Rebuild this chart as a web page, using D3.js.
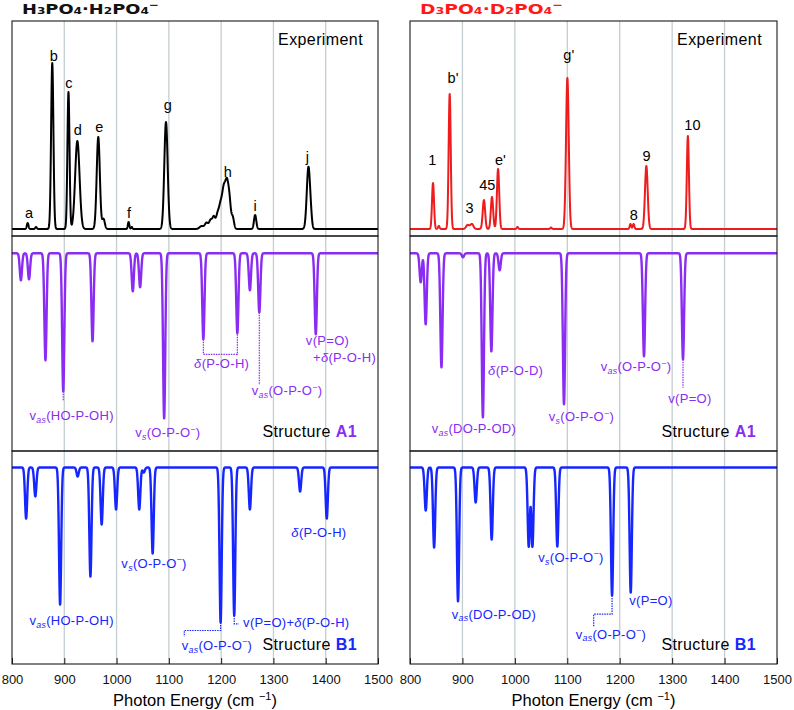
<!DOCTYPE html>
<html>
<head>
<meta charset="utf-8">
<script src="https://cdn.jsdelivr.net/npm/d3@7"></script>
<style>
  body { margin: 0; background: #fff; }
  text { font-family: "Liberation Sans", Arial, sans-serif; }
</style>
</head>
<body>
<svg id="chart" width="794" height="710"></svg>
<script>
// ---- data: peaks as [position cm-1, height, width(sigma)] ----
const energyTicks = [800, 900, 1000, 1100, 1200, 1300, 1400, 1500]

const hExpPeaks = [
  [830, 6, 1.6], [846, 2, 1.5], [877, 166, 2.2], [908, 137, 2.0], [925, 88, 4.2],
  [965, 92, 3.0], [975, 10, 2.5], [1023, 7, 1.4], [1029, 2, 1.2], [1094.5, 107, 3.2],
  [1163, 3, 4], [1172, 6, 3], [1180, 9, 3], [1186, 11, 2.5], [1193, 14, 3], [1199, 22, 3],
  [1205, 36, 3], [1211, 43, 3], [1216, 24, 2.5], [1222, 12, 2.5], [1265, 14, 2.2], [1367, 62, 3.2], [1372, 6, 2]
]
const hExpLabels = [
  ['a', 832.5, 11], ['b', 880, 168], ['c', 909, 141], ['d', 926, 94], ['e', 967, 97],
  ['f', 1024, 11], ['g', 1098, 119], ['h', 1212.5, 52], ['i', 1265, 18], ['j', 1365, 67]
]

const dExpPeaks = [
  [843.9, 46, 1.9], [855, 3, 1.5], [875.7, 135, 2.0], [910, 4, 3], [918, 5, 3],
  [941, 29, 2.3], [956.4, 32, 2.2], [968, 60, 2.2], [1005, 2, 1.5], [1069, 1.5, 1.5],
  [1100.2, 151, 2.6], [1220.5, 5, 1.5], [1226.5, 5, 1.5], [1250.8, 63, 2.6], [1330, 93, 2.0]
]
const dExpLabels = [
  ['1', 842.7, 64], ["b'", 882, 146], ['3', 913.8, 16], ['45', 947.5, 39], ["e'", 972.4, 64],
  ["g'", 1102.8, 169], ['8', 1226.7, 9], ['9', 1251, 67.6], ['10', 1338.7, 99]
]

const hA1Peaks = [
  [817, 27], [832.5, 26], [864, 107], [898, 138], [954, 88], [1031, 38], [1045, 34],
  [1091, 165], [1166, 86], [1231, 80], [1255, 37], [1273, 59], [1381, 81]
]
const hB1Peaks = [
  [827, 51], [844.6, 29], [892, 137], [925.6, 9], [950, 109], [971.5, 57], [999, 42],
  [1043.4, 42], [1052, 5], [1069, 86], [1199, 155], [1225, 148], [1255, 42], [1351, 24], [1402, 51]
]
const dA1Peaks = [
  [820.4, 29], [829.9, 71], [860, 114], [901, 4], [939, 164], [955.2, 98], [971, 17],
  [1093.7, 151], [1246.3, 103], [1320.7, 106]
]
const dB1Peaks = [
  [830, 43], [846, 80], [891.6, 134], [925.3, 35], [955.8, 72], [1026.5, 79], [1033.5, 79],
  [1081, 79], [1185.4, 128], [1221, 125]
]

// annotations: [text, x (cm-1), depth, anchor]
const hA1Notes = [
  ['v_{as}(HO-P-OH)', 914, 166.7, 'middle'],
  ['v_{s}(O-P-O^{−})', 1098, 183.7, 'middle'],
  ['*δ*(P-O-H)', 1201, 114.7, 'middle'],
  ['v_{as}(O-P-O^{−})', 1258.5, 141.7, 'start'],
  ['v(P=O)', 1362, 92, 'start'],
  ['+*δ*(P-O-H)', 1375.7, 108.5, 'start']
]
const hA1Leaders = [
  [[898, 138], [898, 148]],
  [[1166, 86], [1166, 101], [1231, 101], [1231, 80]],
  [[1273, 59], [1273, 131.7]]
]
const hB1Notes = [
  ['v_{as}(HO-P-OH)', 914, 157.3, 'middle'],
  ['v_{s}(O-P-O^{−})', 1071.6, 100.3, 'middle'],
  ['*δ*(P-O-H)', 1387, 69, 'middle'],
  ['v_{as}(O-P-O^{−})', 1124.5, 182.3, 'start'],
  ['v(P=O)+*δ*(P-O-H)', 1242, 159, 'start']
]
const hB1Leaders = [
  [[1199, 155], [1199, 163], [1129.5, 163], [1129.5, 169]],
  [[1225, 148], [1225, 156.3], [1233.7, 156.3]]
]
const dA1Notes = [
  ['*δ*(P-O-D)', 949, 122, 'start'],
  ['v_{as}(DO-P-OD)', 841.4, 180, 'start'],
  ['v_{s}(O-P-O^{−})', 1064.7, 167.7, 'start'],
  ['v_{as}(O-P-O^{−})', 1163.8, 117.7, 'start'],
  ['v(P=O)', 1292.7, 149.4, 'start']
]
const dA1Leaders = [
  [[1320.7, 106], [1320.7, 134.4]]
]
const dB1Notes = [
  ['v_{as}(DO-P-OD)', 879.5, 151, 'start'],
  ['v_{s}(O-P-O^{−})', 1044.7, 94.4, 'start'],
  ['v(P=O)', 1218.3, 137.7, 'start'],
  ['v_{as}(O-P-O^{−})', 1116, 171, 'start']
]
const dB1Leaders = [
  [[1185.4, 128], [1185.4, 146.7], [1150.4, 146.7], [1150.4, 159.4]]
]

// ---- layout ----
const svg = d3.select('#chart')
const rows = [21, 236, 451, 664]
const columns = [
  { x0: 12, x1: 378, title: 'H_{3}PO_{4}·H_{2}PO_{4}^{−}', titleColor: '#111', titleLen: 137,
    exp: hExpPeaks, expLabels: hExpLabels, expColor: '#000',
    a1: hA1Peaks, a1Notes: hA1Notes, a1Leaders: hA1Leaders,
    b1: hB1Peaks, b1Notes: hB1Notes, b1Leaders: hB1Leaders },
  { x0: 410, x1: 777, title: 'D_{3}PO_{4}·D_{2}PO_{4}^{−}', titleColor: '#ff1a1a', titleLen: 143,
    exp: dExpPeaks, expLabels: dExpLabels, expColor: '#ee1c1c',
    a1: dA1Peaks, a1Notes: dA1Notes, a1Leaders: dA1Leaders,
    b1: dB1Peaks, b1Notes: dB1Notes, b1Leaders: dB1Leaders }
]
const purple = '#8a2cf2'
const blue = '#1626ff'
const gridColor = '#c3cdd2'
const noteSize = 13

const spectrum = (peaks, sigma) => {
  const pts = []
  for (let e = 800; e <= 1500; e += 0.25) {
    let v = 0
    peaks.forEach(p => {
      const s = p[2] || sigma
      v += p[1] * Math.exp(-((e - p[0]) ** 2) / (2 * s * s))
    })
    pts.push([e, v])
  }
  return pts
}

// rich text: _{sub} ^{sup} *italic*
const richText = (sel, str, size, flatSub) => {
  const re = /_\{([^}]*)\}|\^\{([^}]*)\}|\*([^*]*)\*|([^_^*]+)/g
  let m, shift = 0
  while ((m = re.exec(str))) {
    const t = sel.append('tspan')
    let target = 0
    if (m[1] !== undefined) {
      t.text(m[1]).attr('font-size', size * 0.68)
      if (!flatSub) { t.attr('font-style', 'italic'); target = size * 0.22 }
    } else if (m[2] !== undefined) {
      t.text(m[2]).attr('font-size', size * 0.68); target = -size * 0.42
    } else if (m[3] !== undefined) {
      t.text(m[3]).attr('font-style', 'italic')
    } else {
      t.text(m[4])
    }
    t.attr('dy', target - shift)
    shift = target
  }
}

columns.forEach((col, ci) => {
  const x = d3.scaleLinear().domain([800, 1500]).range([col.x0, col.x1])
  const g = svg.append('g')

  // title
  const title = g.append('text')
    .attr('x', col.x0 + 10).attr('y', 14)
    .attr('font-size', 13.5).attr('font-weight', 'bold')
    .style('font-family', '"DejaVu Sans", Verdana, sans-serif')
    .attr('fill', col.titleColor)
    .attr('textLength', col.titleLen).attr('lengthAdjust', 'spacingAndGlyphs')
  richText(title, col.title, 13.5, true)

  // grid
  g.append('g').selectAll('line').data(energyTicks.slice(1, -1)).enter().append('line')
    .attr('x1', d => x(d)).attr('x2', d => x(d))
    .attr('y1', rows[0]).attr('y2', rows[3])
    .attr('stroke', gridColor).attr('stroke-width', 1.3)

  const clipId = 'clip' + ci
  svg.append('clipPath').attr('id', clipId).append('rect')
    .attr('x', col.x0).attr('y', rows[0]).attr('width', col.x1 - col.x0).attr('height', rows[3] - rows[0])

  // experiment panel
  const yExp = d3.scaleLinear().domain([0, 208]).range([rows[0] + 208, rows[0]])
  g.append('path').datum(spectrum(col.exp, 2))
    .attr('clip-path', `url(#${clipId})`)
    .attr('fill', 'none').attr('stroke', col.expColor).attr('stroke-width', 2)
    .attr('stroke-linejoin', 'round')
    .attr('d', d3.line().x(d => x(d[0])).y(d => yExp(d[1])))
  g.append('g').selectAll('text').data(col.expLabels).enter().append('text')
    .attr('x', d => x(d[1])).attr('y', d => yExp(d[2]))
    .attr('text-anchor', 'middle').attr('font-size', 14.5).attr('fill', '#000')
    .text(d => d[0])
  g.append('text').attr('x', col.x1 - 15).attr('y', 45)
    .attr('text-anchor', 'end').attr('font-size', 16).attr('letter-spacing', 0.4)
    .text('Experiment')

  // simulated panels
  const sims = [
    { peaks: col.a1, notes: col.a1Notes, leaders: col.a1Leaders, top: rows[1], bottom: rows[2], color: purple, base: 17.3, name: 'A1' },
    { peaks: col.b1, notes: col.b1Notes, leaders: col.b1Leaders, top: rows[2], bottom: rows[3], color: blue, base: 16.5, name: 'B1' }
  ]
  sims.forEach(s => {
    const y = d3.scaleLinear().domain([0, 200]).range([s.top + s.base, s.top + s.base + 200])
    g.append('path').datum(spectrum(s.peaks, 2.1))
      .attr('clip-path', `url(#${clipId})`)
      .attr('fill', 'none').attr('stroke', s.color).attr('stroke-width', 2.4)
      .attr('stroke-linejoin', 'round')
      .attr('d', d3.line().x(d => x(d[0])).y(d => y(d[1])))

    g.append('g').selectAll('path').data(s.leaders).enter().append('path')
      .attr('fill', 'none').attr('stroke', s.color).attr('stroke-width', 1.2)
      .attr('stroke-dasharray', '1.5,1')
      .attr('d', d3.line().x(d => x(d[0])).y(d => y(d[1])))

    s.notes.forEach(n => {
      const t = g.append('text').attr('x', x(n[1])).attr('y', y(n[2]))
        .attr('text-anchor', n[3]).attr('font-size', noteSize).attr('fill', s.color)
        .attr('letter-spacing', 0.3)
      richText(t, n[0], noteSize, false)
    })

    const lab = g.append('text').attr('x', col.x1 - 21).attr('y', s.bottom - 14)
      .attr('text-anchor', 'end').attr('font-size', 16).attr('letter-spacing', 0.4)
    lab.append('tspan').attr('fill', '#000').text('Structure ')
    lab.append('tspan').attr('fill', s.color).attr('font-weight', 'bold').text(s.name)
  })

  // panel frames
  rows.slice(0, 3).forEach((r, i) => {
    g.append('rect').attr('x', col.x0).attr('y', r)
      .attr('width', col.x1 - col.x0).attr('height', rows[i + 1] - r)
      .attr('fill', 'none').attr('stroke', '#1a1a1a').attr('stroke-width', 1.1)
  })

  // axis
  const axis = g.append('g').attr('transform', `translate(0,${rows[3]})`)
    .call(d3.axisBottom(x).tickValues(energyTicks).tickSizeInner(-6).tickSizeOuter(0).tickPadding(11).tickFormat(d3.format('d')))
  axis.select('.domain').remove()
  axis.selectAll('line').attr('stroke', '#1a1a1a')
  axis.selectAll('text').attr('font-size', 13).attr('fill', '#111')
    .attr('font-family', '"Liberation Sans", Arial, sans-serif')

  const at = g.append('text').attr('x', (col.x0 + col.x1) / 2).attr('y', 706)
    .attr('text-anchor', 'middle').attr('font-size', 16.5)
  at.append('tspan').text('Photon Energy (cm ')
  at.append('tspan').attr('font-size', 11).attr('dy', -6).text('−1')
  at.append('tspan').attr('dy', 6).text(')')
})
</script>
</body>
</html>
